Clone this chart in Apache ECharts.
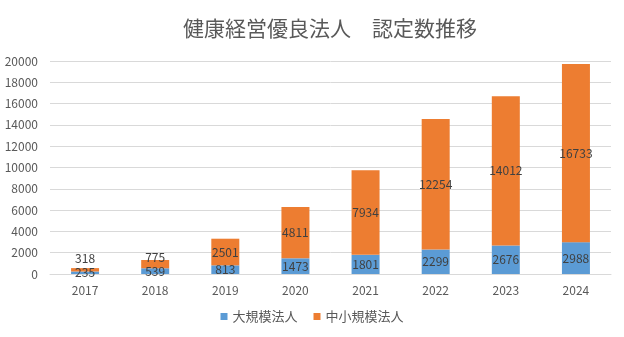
<!DOCTYPE html>
<html><head><meta charset="utf-8">
<script src="https://cdn.jsdelivr.net/npm/echarts@6/dist/echarts.min.js"></script>
<style>html,body{margin:0;padding:0;background:#fff}#c{width:624px;height:337px}</style>
</head><body><div id="c"></div>
<script>
const categories = ['2017','2018','2019','2020','2021','2022','2023','2024'];
const largeValues = [235, 539, 813, 1473, 1801, 2299, 2676, 2988];
const smeValues = [318, 775, 2501, 4811, 7934, 12254, 14012, 16733];
const seriesNames = ['大規模法人', '中小規模法人'];
const titleText = '健康経営優良法人\u3000認定数推移';

const font = '"Noto Sans CJK JP", "Noto Sans", sans-serif';
const chart = echarts.init(document.getElementById('c'), null, {renderer: 'canvas'});
const smeData = smeValues.map((v, i) => {
  if (i === 0) return {value: v, label: {offset: [0, -11]}};
  if (i === 1) return {value: v, label: {offset: [0, -7]}};
  return v;
});
chart.setOption({
  animation: false,
  title: {text: titleText, left: 178, top: 13, textStyle: {fontFamily: font, fontSize: 21, fontWeight: 'normal', color: '#595959'}},
  grid: {left: 50, right: 13, top: 61, bottom: 63, containLabel: false},
  legend: {bottom: 9, left: 'center', itemWidth: 7, itemHeight: 7, itemGap: 16, icon: 'rect',
    textStyle: {fontFamily: font, fontSize: 13, color: '#595959'}},
  xAxis: {type: 'category', data: categories,
    axisLine: {lineStyle: {color: '#d9d9d9'}}, axisTick: {show: false},
    axisLabel: {fontFamily: font, fontSize: 12, color: '#595959', margin: 10}},
  yAxis: {type: 'value', min: 0, max: 20000, interval: 2000,
    axisLine: {show: false}, axisTick: {show: false},
    splitLine: {lineStyle: {color: '#d9d9d9'}},
    axisLabel: {fontFamily: font, fontSize: 12, color: '#595959', margin: 12, formatter: v => String(v)}},
  series: [
    {name: seriesNames[0], type: 'bar', stack: 'a', data: largeValues, barWidth: 28,
      itemStyle: {color: '#5B9BD5'},
      label: {show: true, position: 'inside', fontFamily: font, fontSize: 12, color: '#404040'}},
    {name: seriesNames[1], type: 'bar', stack: 'a', data: smeData, barWidth: 28,
      itemStyle: {color: '#ED7D31'},
      label: {show: true, position: 'inside', fontFamily: font, fontSize: 12, color: '#404040'}}
  ]
});
</script></body></html>
